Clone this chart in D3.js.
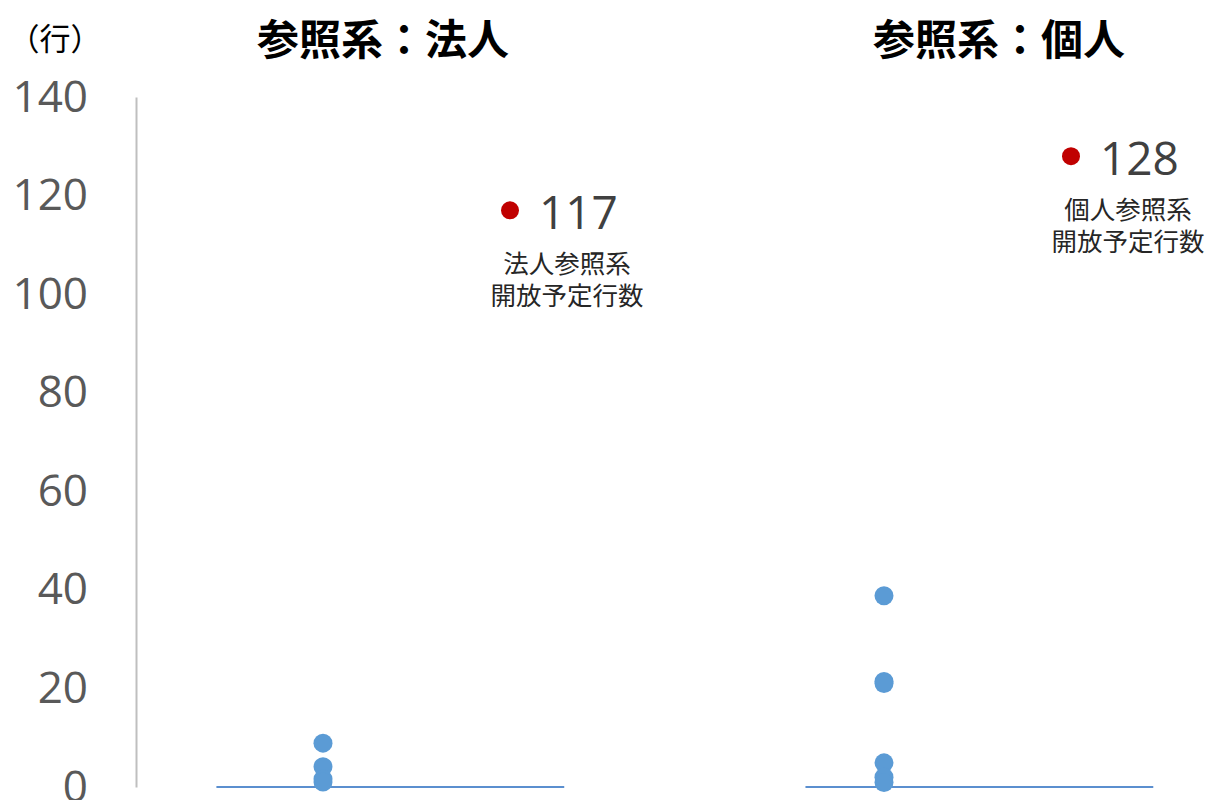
<!DOCTYPE html>
<html>
<head>
<meta charset="utf-8">
<script src="https://cdn.jsdelivr.net/npm/d3@7/dist/d3.min.js"></script>
<style>
  html, body { margin: 0; padding: 0; background: #fff; }
  svg { display: block; }
</style>
</head>
<body>
<svg id="chart" width="1210" height="800"></svg>
<script>
// ---- data ----
const panelTitles = ["参照系：法人", "参照系：個人"];
const clusterX = [1, 4];          // x position (scatter x) of each panel's observed values
const targetX = [2, 5];           // x position of each panel's target marker
const corpValues = [8.9, 4.1, 1.6, 1.0];
const indivValues = [38.8, 21.4, 21.0, 4.9, 2.0, 0.9];
const targetValues = [117, 128];
const targetLabels = [["法人参照系", "開放予定行数"], ["個人参照系", "開放予定行数"]];
const baselineExtents = [[0.43, 2.29], [3.58, 5.44]];
const yTicks = [0, 20, 40, 60, 80, 100, 120, 140];
const unitLabel = "（行）";

// ---- layout ----
const svg = d3.select("#chart");
const axisX = 136;
const x = d3.scaleLinear().domain([0, 1]).range([axisX, axisX + 187]);
const y = d3.scaleLinear().domain([0, 140]).range([787, 97]);

const numFont = "'Open Sans', 'Noto Sans', sans-serif";
const cjkFont = "'Noto Sans CJK JP', 'Noto Sans', sans-serif";

// y axis
const yAxis = d3.axisLeft(y).tickValues(yTicks).tickSize(0).tickSizeOuter(0).tickPadding(48);
const gy = svg.append("g").attr("transform", `translate(${axisX},0)`).call(yAxis);
gy.select(".domain").attr("stroke", "#bfbfbf").attr("stroke-width", 2);
gy.selectAll(".tick text")
  .attr("font-family", numFont)
  .attr("font-size", 44)
  .attr("fill", "#595959")
  .attr("dy", null)
  .attr("dominant-baseline", "central")
  .attr("y", -3);

// unit label
svg.append("text")
  .attr("x", 55).attr("y", 36)
  .attr("text-anchor", "middle").attr("dominant-baseline", "central")
  .attr("font-family", cjkFont).attr("font-size", 31).attr("fill", "#000")
  .text(unitLabel);

// baselines
svg.selectAll("line.base").data(baselineExtents).enter().append("line")
  .attr("class", "base")
  .attr("x1", d => x(d[0])).attr("x2", d => x(d[1]))
  .attr("y1", y(0)).attr("y2", y(0))
  .attr("stroke", "#5b8fcf").attr("stroke-width", 2);

// titles
const titleCenters = [383, 999];
svg.selectAll("text.title").data(panelTitles).enter().append("text")
  .attr("class", "title")
  .attr("x", (d, i) => titleCenters[i]).attr("y", 36)
  .attr("text-anchor", "middle").attr("dominant-baseline", "central")
  .attr("font-family", cjkFont).attr("font-size", 42).attr("font-weight", "bold").attr("fill", "#000")
  .text(d => d);

// observed dots
const series = [corpValues, indivValues];
series.forEach((vals, i) => {
  svg.selectAll(null).data(vals).enter().append("circle")
    .attr("cx", x(clusterX[i])).attr("cy", d => y(d))
    .attr("r", 9.5).attr("fill", "#5b9bd5");
});

// target dots + labels
targetValues.forEach((v, i) => {
  const cx = x(targetX[i]), cy = y(v);
  svg.append("circle").attr("cx", cx).attr("cy", cy).attr("r", 9).attr("fill", "#c00000");
  svg.append("text")
    .attr("x", cx + 29).attr("y", cy + 1)
    .attr("dominant-baseline", "central")
    .attr("font-family", numFont).attr("font-size", 46).attr("fill", "#404040")
    .text(v);
  targetLabels[i].forEach((line, j) => {
    svg.append("text")
      .attr("x", cx + 57).attr("y", cy + 51 + j * 32)
      .attr("text-anchor", "middle").attr("dominant-baseline", "central")
      .attr("font-family", cjkFont).attr("font-size", 25.5).attr("fill", "#262626")
      .text(line);
  });
});
</script>
</body>
</html>
